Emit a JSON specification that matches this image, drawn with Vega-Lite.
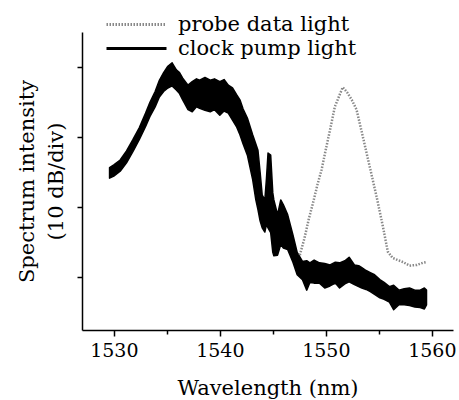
{
  "$schema": "https://vega.github.io/schema/vega-lite/v6.json",
  "width": 371,
  "height": 298,
  "autosize": "none",
  "padding": {"left": 82, "top": 32, "right": 6, "bottom": 70},
  "background": "white",
  "config": {
    "view": {"stroke": null},
    "font": "DejaVu Serif",
    "axis": {"domainColor": "black", "domainWidth": 1.5, "tickColor": "black", "tickWidth": 1.5, "grid": false, "labelColor": "black", "titleColor": "black", "titleFontWeight": "normal", "labelFont": "DejaVu Serif", "titleFont": "DejaVu Serif"}
  },
  "datasets": {
    "clock": [
      {"series": "clock pump light", "wl": 1529.6, "hi": 15.6, "lo": 14.1},
      {"series": "clock pump light", "wl": 1530.0, "hi": 16.0, "lo": 14.4},
      {"series": "clock pump light", "wl": 1530.6, "hi": 16.7, "lo": 15.1},
      {"series": "clock pump light", "wl": 1531.2, "hi": 18.0, "lo": 16.3},
      {"series": "clock pump light", "wl": 1531.8, "hi": 19.6, "lo": 17.9},
      {"series": "clock pump light", "wl": 1532.4, "hi": 21.3, "lo": 19.6},
      {"series": "clock pump light", "wl": 1533.0, "hi": 23.4, "lo": 21.5},
      {"series": "clock pump light", "wl": 1533.4, "hi": 24.9, "lo": 22.9},
      {"series": "clock pump light", "wl": 1533.9, "hi": 26.5, "lo": 24.3},
      {"series": "clock pump light", "wl": 1534.3, "hi": 28.1, "lo": 25.7},
      {"series": "clock pump light", "wl": 1534.7, "hi": 29.2, "lo": 26.5},
      {"series": "clock pump light", "wl": 1535.1, "hi": 30.1, "lo": 27.0},
      {"series": "clock pump light", "wl": 1535.5, "hi": 30.6, "lo": 27.3},
      {"series": "clock pump light", "wl": 1535.9, "hi": 29.6, "lo": 26.7},
      {"series": "clock pump light", "wl": 1536.2, "hi": 29.2, "lo": 26.2},
      {"series": "clock pump light", "wl": 1536.5, "hi": 28.4, "lo": 25.3},
      {"series": "clock pump light", "wl": 1537.0, "hi": 27.4, "lo": 23.9},
      {"series": "clock pump light", "wl": 1537.4, "hi": 27.9, "lo": 23.6},
      {"series": "clock pump light", "wl": 1537.8, "hi": 28.3, "lo": 24.3},
      {"series": "clock pump light", "wl": 1538.1, "hi": 28.1, "lo": 24.1},
      {"series": "clock pump light", "wl": 1538.6, "hi": 28.5, "lo": 23.8},
      {"series": "clock pump light", "wl": 1539.1, "hi": 28.1, "lo": 23.6},
      {"series": "clock pump light", "wl": 1539.5, "hi": 28.3, "lo": 23.9},
      {"series": "clock pump light", "wl": 1540.0, "hi": 27.9, "lo": 23.1},
      {"series": "clock pump light", "wl": 1540.4, "hi": 28.2, "lo": 23.7},
      {"series": "clock pump light", "wl": 1540.8, "hi": 27.4, "lo": 23.4},
      {"series": "clock pump light", "wl": 1541.2, "hi": 27.0, "lo": 22.4},
      {"series": "clock pump light", "wl": 1541.6, "hi": 26.0, "lo": 21.4},
      {"series": "clock pump light", "wl": 1541.9, "hi": 25.3, "lo": 20.3},
      {"series": "clock pump light", "wl": 1542.2, "hi": 24.0, "lo": 19.0},
      {"series": "clock pump light", "wl": 1542.6, "hi": 22.7, "lo": 17.4},
      {"series": "clock pump light", "wl": 1543.1, "hi": 20.3, "lo": 13.9},
      {"series": "clock pump light", "wl": 1543.4, "hi": 19.0, "lo": 11.0},
      {"series": "clock pump light", "wl": 1543.6, "hi": 18.1, "lo": 9.6},
      {"series": "clock pump light", "wl": 1543.8, "hi": 15.0, "lo": 8.0},
      {"series": "clock pump light", "wl": 1544.0, "hi": 11.7, "lo": 7.0},
      {"series": "clock pump light", "wl": 1544.25, "hi": 11.0, "lo": 6.4},
      {"series": "clock pump light", "wl": 1544.4, "hi": 14.0, "lo": 7.5},
      {"series": "clock pump light", "wl": 1544.55, "hi": 17.7, "lo": 7.0},
      {"series": "clock pump light", "wl": 1544.8, "hi": 17.4, "lo": 6.3},
      {"series": "clock pump light", "wl": 1545.0, "hi": 12.0, "lo": 3.5},
      {"series": "clock pump light", "wl": 1545.1, "hi": 11.0, "lo": 3.0},
      {"series": "clock pump light", "wl": 1545.45, "hi": 8.9, "lo": 3.1},
      {"series": "clock pump light", "wl": 1545.75, "hi": 11.0, "lo": 4.6},
      {"series": "clock pump light", "wl": 1546.0, "hi": 10.3, "lo": 4.1},
      {"series": "clock pump light", "wl": 1546.4, "hi": 8.9, "lo": 3.9},
      {"series": "clock pump light", "wl": 1546.9, "hi": 6.0, "lo": 2.1},
      {"series": "clock pump light", "wl": 1547.3, "hi": 3.5, "lo": 0.3},
      {"series": "clock pump light", "wl": 1547.8, "hi": 2.2, "lo": -0.4},
      {"series": "clock pump light", "wl": 1548.2, "hi": 2.3, "lo": -1.9},
      {"series": "clock pump light", "wl": 1548.5, "hi": 2.0, "lo": -0.8},
      {"series": "clock pump light", "wl": 1548.9, "hi": 2.4, "lo": -0.9},
      {"series": "clock pump light", "wl": 1549.4, "hi": 2.0, "lo": -0.9},
      {"series": "clock pump light", "wl": 1549.9, "hi": 1.9, "lo": -1.6},
      {"series": "clock pump light", "wl": 1550.4, "hi": 1.7, "lo": -1.3},
      {"series": "clock pump light", "wl": 1550.9, "hi": 2.1, "lo": -0.9},
      {"series": "clock pump light", "wl": 1551.3, "hi": 2.0, "lo": -1.6},
      {"series": "clock pump light", "wl": 1551.8, "hi": 2.3, "lo": -1.0},
      {"series": "clock pump light", "wl": 1552.2, "hi": 2.8, "lo": -0.7},
      {"series": "clock pump light", "wl": 1552.7, "hi": 1.7, "lo": -1.1},
      {"series": "clock pump light", "wl": 1553.1, "hi": 1.6, "lo": -1.4},
      {"series": "clock pump light", "wl": 1553.4, "hi": 1.3, "lo": -1.6},
      {"series": "clock pump light", "wl": 1553.8, "hi": 0.9, "lo": -1.8},
      {"series": "clock pump light", "wl": 1554.2, "hi": 0.6, "lo": -2.1},
      {"series": "clock pump light", "wl": 1554.6, "hi": 0.3, "lo": -2.5},
      {"series": "clock pump light", "wl": 1555.1, "hi": -0.4, "lo": -3.0},
      {"series": "clock pump light", "wl": 1555.5, "hi": -0.8, "lo": -3.2},
      {"series": "clock pump light", "wl": 1556.0, "hi": -1.4, "lo": -3.6},
      {"series": "clock pump light", "wl": 1556.4, "hi": -1.2, "lo": -4.7},
      {"series": "clock pump light", "wl": 1556.9, "hi": -1.9, "lo": -4.0},
      {"series": "clock pump light", "wl": 1557.4, "hi": -1.7, "lo": -4.0},
      {"series": "clock pump light", "wl": 1557.9, "hi": -1.6, "lo": -4.1},
      {"series": "clock pump light", "wl": 1558.4, "hi": -1.9, "lo": -4.3},
      {"series": "clock pump light", "wl": 1558.9, "hi": -1.9, "lo": -4.4},
      {"series": "clock pump light", "wl": 1559.3, "hi": -1.6, "lo": -4.6},
      {"series": "clock pump light", "wl": 1559.5, "hi": -1.9, "lo": -4.0}
    ],
    "probe": [
      {"series": "probe data light", "wl": 1547.55, "y": 3.1},
      {"series": "probe data light", "wl": 1548.0, "y": 5.6},
      {"series": "probe data light", "wl": 1548.4, "y": 8.3},
      {"series": "probe data light", "wl": 1548.8, "y": 10.6},
      {"series": "probe data light", "wl": 1549.2, "y": 13.1},
      {"series": "probe data light", "wl": 1549.6, "y": 15.3},
      {"series": "probe data light", "wl": 1550.0, "y": 18.2},
      {"series": "probe data light", "wl": 1550.4, "y": 21.0},
      {"series": "probe data light", "wl": 1550.85, "y": 24.3},
      {"series": "probe data light", "wl": 1551.3, "y": 26.0},
      {"series": "probe data light", "wl": 1551.6, "y": 27.1},
      {"series": "probe data light", "wl": 1552.0, "y": 26.4},
      {"series": "probe data light", "wl": 1552.45, "y": 25.3},
      {"series": "probe data light", "wl": 1552.9, "y": 23.9},
      {"series": "probe data light", "wl": 1553.5, "y": 20.0},
      {"series": "probe data light", "wl": 1554.15, "y": 15.7},
      {"series": "probe data light", "wl": 1554.8, "y": 11.4},
      {"series": "probe data light", "wl": 1555.4, "y": 7.1},
      {"series": "probe data light", "wl": 1555.85, "y": 3.6},
      {"series": "probe data light", "wl": 1556.3, "y": 2.7},
      {"series": "probe data light", "wl": 1556.8, "y": 2.4},
      {"series": "probe data light", "wl": 1557.3, "y": 2.1},
      {"series": "probe data light", "wl": 1557.9, "y": 1.6},
      {"series": "probe data light", "wl": 1558.6, "y": 1.7},
      {"series": "probe data light", "wl": 1559.15, "y": 2.0},
      {"series": "probe data light", "wl": 1559.5, "y": 2.1}
    ]
  },
  "layer": [
    {
      "data": {"name": "clock"},
      "mark": {"type": "area", "stroke": "black", "strokeWidth": 1.5, "strokeJoin": "round"},
      "encoding": {
        "x": {"field": "wl", "type": "quantitative", "scale": {"domain": [1527, 1562], "nice": false, "zero": false},
          "axis": {"values": [1530, 1535, 1540, 1545, 1550, 1555, 1560], "format": "d", "labelExpr": "datum.value % 10 === 0 ? datum.label : ''", "tickSize": {"condition": {"test": "datum.value % 10 === 0", "value": 6}, "value": 4}, "labelFontSize": 19, "labelPadding": 5, "title": "Wavelength (nm)", "titleFontSize": 21, "titlePadding": 17}},
        "y": {"field": "hi", "type": "quantitative", "scale": {"domain": [-7.6, 35], "nice": false, "zero": false},
          "axis": {"values": [0, 10, 20, 30], "labels": false, "tickSize": 5, "title": ["Spectrum intensity", "(10 dB/div)"], "titleFontSize": 21, "titleLineHeight": 29, "titlePadding": 10}},
        "y2": {"field": "lo"},
        "color": {"field": "series", "type": "nominal",
          "scale": {"domain": ["probe data light", "clock pump light"], "range": ["#888888", "black"]},
          "legend": {"orient": "none", "legendX": 43, "legendY": -19, "title": null, "symbolType": "M-3,0H3", "symbolSize": 400, "symbolStrokeWidth": 3, "labelFontSize": 21, "labelFont": "DejaVu Serif", "labelColor": "black", "labelOffset": 30, "labelLimit": 400, "rowPadding": 2, "padding": 0}}
      }
    },
    {
      "data": {"name": "probe"},
      "mark": {"type": "line", "strokeWidth": 2.5},
      "encoding": {
        "x": {"field": "wl", "type": "quantitative"},
        "y": {"field": "y", "type": "quantitative"},
        "color": {"field": "series", "type": "nominal"},
        "strokeDash": {"field": "series", "type": "nominal",
          "scale": {"domain": ["probe data light", "clock pump light"], "range": [[1.5, 1.5], [1, 0]]},
          "legend": {"orient": "none", "legendX": 43, "legendY": -19, "title": null, "symbolType": "M-3,0H3", "symbolSize": 400, "symbolStrokeWidth": 3, "labelFontSize": 21, "labelFont": "DejaVu Serif", "labelColor": "black", "labelOffset": 30, "labelLimit": 400, "rowPadding": 2, "padding": 0}}
      }
    }
  ]
}
